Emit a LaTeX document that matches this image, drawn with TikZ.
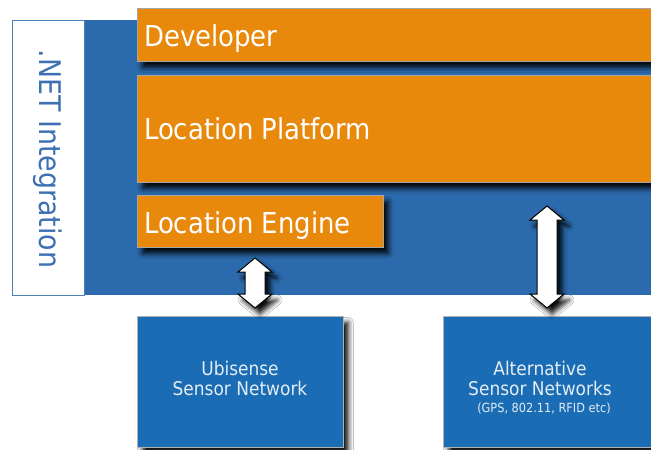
\documentclass[tikz,border=0pt]{standalone}
\usepackage{fontspec}
\setmainfont{DejaVu Sans Condensed}
\usetikzlibrary{shadows.blur}
\definecolor{orangeF}{HTML}{E8890C}
\definecolor{blueBG}{HTML}{2B6AAD}
\definecolor{blueBox}{HTML}{1A6DB5}
\definecolor{blueText}{HTML}{3D70B3}
\definecolor{lightText}{HTML}{E4ECF4}
\tikzset{
  shad/.style={blur shadow={shadow xshift=5pt, shadow yshift=-6pt, shadow blur radius=5pt, shadow opacity=95}},
  obox/.style={shad, fill=orangeF, draw=gray!70, line width=0.8pt, inner sep=0pt, anchor=north west},
  bbox/.style={shad, fill=blueBox, draw=gray!60, line width=0.8pt, inner sep=0pt, anchor=north west},
  otext/.style={anchor=base west, text=white, inner sep=0pt, font=\fontsize{28.8}{31}\selectfont},
  btext/.style={text=lightText, inner sep=0pt, align=center, font=\fontsize{18.9}{21}\selectfont},
  stext/.style={text=lightText, inner sep=0pt, font=\fontsize{12.6}{14}\selectfont},
  udarr/.style={shad, fill=white, draw=black, line width=1pt, line join=miter},
}
\newcommand\udarrow[3]{%
  \draw[udarr] (#1,#2) -- ++(17,14) -- ++(-7,0) -- (#1+10,#3-14) -- ++(7,0) -- (#1,#3)
   -- ++(-17,-14) -- ++(7,0) -- (#1-10,#2+14) -- ++(-7,0) -- cycle;}
\begin{document}
\begin{tikzpicture}[x=1pt,y=-1pt]
\useasboundingbox (0,0) rectangle (651,450);
\fill[white] (0,0) rectangle (651,450);
% background blue panel
\node[fill=blueBG, inner sep=0pt, anchor=north west, minimum width=640pt, minimum height=275pt] (bg) at (12,20) {};
% .NET column
\node[fill=white, draw=blueBG!85, line width=1pt, inner sep=0pt, anchor=north west, minimum width=72pt, minimum height=275pt] (net) at (12,20) {};
\node[rotate=-90, text=blueText, inner sep=0pt, font=\fontsize{29.8}{32}\selectfont] (netlbl) at (48,159) {.NET Integration};
% orange layers
\node[obox, minimum width=520pt, minimum height=53pt] (dev) at (137,8) {};
\node[otext] (devlbl) at (144,46) {Developer};
\node[obox, minimum width=520pt, minimum height=107pt] (plat) at (137,75) {};
\node[otext] (platlbl) at (144,139) {Location Platform};
\node[obox, minimum width=246pt, minimum height=52pt] (eng) at (137,195) {};
\node[otext] (englbl) at (144,233) {Location Engine};
% sensor boxes
\node[bbox, minimum width=206pt, minimum height=131pt] (ubi) at (137,316) {};
\node[btext, anchor=base] (ubilbl1) at (240,375) {Ubisense};
\node[btext, anchor=base] (ubilbl2) at (240,395) {Sensor Network};
\node[bbox, minimum width=215pt, minimum height=131pt] (alt) at (443,316) {};
\node[btext, anchor=base] (altlbl1) at (540,375) {Alternative};
\node[btext, anchor=base] (altlbl2) at (540,395) {Sensor Networks};
\node[stext, anchor=base] (altlbl3) at (544,412) {(GPS, 802.11, RFID etc)};
% arrows
\udarrow{255}{258}{308}
\udarrow{547}{206}{308}
\end{tikzpicture}
\end{document}
